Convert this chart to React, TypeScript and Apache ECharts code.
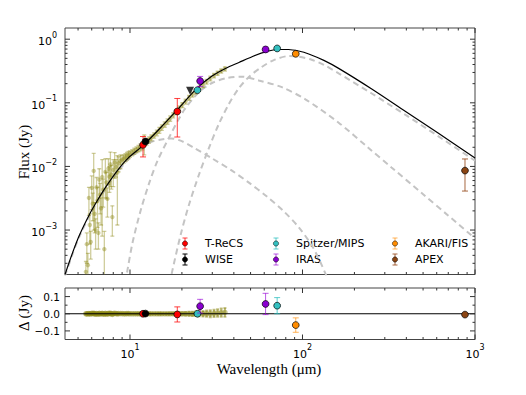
import React, { useEffect, useRef } from "react";
import * as echarts from "echarts";

// ---------- axis ranges ----------
const X_MIN = 4.2;
const X_MAX = 1000;
const Y_MIN = 2e-4;
const Y_MAX = 1.5;
const R_MIN = -0.15;
const R_MAX = 0.15;

const xMajorTicks = [10, 100, 1000];
const xMinorTicks = [5, 6, 7, 8, 9, 20, 30, 40, 50, 60, 70, 80, 90, 200, 300, 400, 500, 600, 700, 800, 900];
const yMajorTicks = [1e-3, 1e-2, 1e-1, 1];
const yMinorTicks = [
  3e-4, 4e-4, 5e-4, 6e-4, 7e-4, 8e-4, 9e-4,
  2e-3, 3e-3, 4e-3, 5e-3, 6e-3, 7e-3, 8e-3, 9e-3,
  0.02, 0.03, 0.04, 0.05, 0.06, 0.07, 0.08, 0.09,
  0.2, 0.3, 0.4, 0.5, 0.6, 0.7, 0.8, 0.9,
];
const rMajorTicks = [-0.1, 0, 0.1];
const rMinorTicks = [-0.05, 0.05];

// ---------- spectrum (olive) ----------
const specWave = [
  5.55, 5.62, 5.7, 5.78, 5.85, 5.92, 6.0, 6.08, 6.16, 6.24, 6.32, 6.4, 6.48, 6.56, 6.64, 6.72, 6.8, 6.9, 7.0, 7.1,
  7.2, 7.3, 7.4, 7.5, 7.6, 7.7, 7.8, 7.9, 8.0, 8.15, 8.3, 8.45, 8.6, 8.8, 9.0, 9.2, 9.4, 9.6, 9.8, 10.0,
  10.3, 10.6, 10.9, 11.2, 11.5, 11.8, 12.1, 12.5, 12.9, 13.3, 13.8, 14.3, 14.8, 15.3, 15.9, 16.5, 17.1, 17.8, 18.5, 19.3,
  20.1, 21.0, 22.0, 23.0, 24.0, 25.2, 26.5, 27.8, 29.2, 30.7, 32.2, 33.8, 35.5,
];
const specFlux = [
  0.00022, 0.0006, 0.00028, 0.0032, 0.0012, 0.00065, 0.0046, 0.0026, 0.0085, 0.0018, 0.001, 0.0047, 0.0029, 0.0009, 0.0062, 0.0036, 0.0022, 0.0068, 0.0043, 0.0005,
  0.0082, 0.0056, 0.0031, 0.0092, 0.0069, 0.0108, 0.0074, 0.0016, 0.0088, 0.0115, 0.0098, 0.008, 0.0112, 0.0122, 0.0128, 0.0133, 0.0139, 0.0146, 0.0152, 0.0157,
  0.0165, 0.0174, 0.0183, 0.0192, 0.0201, 0.0213, 0.0232, 0.0246, 0.0262, 0.0282, 0.0308, 0.0338, 0.0372, 0.041, 0.0458, 0.051, 0.0568, 0.064, 0.0722, 0.082,
  0.0925, 0.105, 0.12, 0.135, 0.15, 0.168, 0.189, 0.215, 0.242, 0.268, 0.292, 0.317, 0.342,
];
const specErr = [
  0.0001, 0.0003, 0.00015, 0.0015, 0.0006, 0.0003, 0.0025, 0.0012, 0.0075, 0.0009, 0.0005, 0.002, 0.0018, 0.0004, 0.003, 0.0018, 0.001, 0.006, 0.002, 0.00045,
  0.005, 0.0025, 0.0015, 0.004, 0.003, 0.006, 0.003, 0.0008, 0.004, 0.005, 0.003, 0.0068, 0.003, 0.003, 0.002, 0.002, 0.002, 0.002, 0.002, 0.0018,
  0.0018, 0.0019, 0.002, 0.0022, 0.0025, 0.003, 0.008, 0.003, 0.003, 0.003, 0.003, 0.0035, 0.004, 0.004, 0.0045, 0.005, 0.0055, 0.006, 0.0065, 0.0075,
  0.0085, 0.0095, 0.011, 0.012, 0.013, 0.015, 0.016, 0.018, 0.02, 0.021, 0.022, 0.024, 0.026,
];
const specResid = [
  0.0, -0.001, 0.0, 0.001, -0.001, 0.0, 0.002, 0.0, 0.003, -0.001, -0.002, 0.001, 0.0, -0.002, 0.002, 0.0, -0.001, 0.002, 0.0, -0.003,
  0.002, 0.0, -0.002, 0.002, 0.001, 0.003, 0.0, -0.004, 0.001, 0.002, 0.001, -0.001, 0.001, 0.001, 0.001, 0.0, 0.0, 0.001, 0.001, 0.0,
  0.0, 0.0, 0.0, 0.0, 0.0, 0.0, 0.001, 0.0, 0.0, 0.0, 0.0, 0.0, 0.0, 0.0, 0.0, 0.0, 0.0, 0.0, 0.0, 0.0,
  0.0, 0.0, 0.0, -0.001, 0.0, 0.001, 0.0, 0.001, 0.0, 0.002, 0.004, 0.006, 0.008,
];

// ---------- models ----------
const totalWave = [4.2, 4.66, 5.09, 5.82, 6.37, 7.26, 8.45, 9.75, 12.0, 14.8, 18.8, 24.5, 29.9, 36, 42.8, 51, 61.5, 73, 83, 95, 108.7, 133, 162, 252, 394, 614, 1000];
const totalFlux = [2.0e-4, 4.5e-4, 8.3e-4, 1.76e-3, 2.71e-3, 4.8e-3, 8.6e-3, 0.0135, 0.0218, 0.0388, 0.0777, 0.17, 0.264, 0.35, 0.43, 0.53, 0.638, 0.689, 0.689, 0.652, 0.586, 0.464, 0.348, 0.165, 0.0738, 0.0332, 0.0136];

const hotWave = [4.2, 4.66, 5.09, 5.82, 6.37, 7.26, 8.45, 9.75, 11.0, 12.0, 13.3, 15.2, 17.3, 19.8, 23.5, 29.9, 39.0, 48.9, 62.2, 78, 95.2, 114.8, 135.5, 150];
const hotFlux = [1.9e-4, 4.3e-4, 7.9e-4, 1.68e-3, 2.58e-3, 4.55e-3, 8.1e-3, 0.0128, 0.0168, 0.0203, 0.0243, 0.0265, 0.0276, 0.0252, 0.0196, 0.0134, 0.00857, 0.00556, 0.00336, 0.00196, 0.0011, 5.37e-4, 2.1e-4, 1.0e-4];

const warmWave = [9.4, 9.69, 10.35, 11.57, 12.93, 14.43, 16.9, 20.6, 25.2, 29.9, 36.5, 44.6, 55.8, 75.9, 104.4, 162, 241.5, 328, 489, 701, 1000];
const warmFlux = [1.5e-4, 2.43e-4, 6.36e-4, 2.1e-3, 5.5e-3, 0.0122, 0.029, 0.077, 0.148, 0.205, 0.245, 0.258, 0.225, 0.176, 0.1125, 0.0487, 0.0195, 0.00964, 0.00385, 0.00168, 7.4e-4];

const coldWave = [17.0, 17.6, 19.7, 22.0, 25.1, 28.7, 32.8, 37.5, 42.8, 48.9, 57.4, 68.2, 83.4, 95.2, 113, 133, 162, 252, 394, 614, 1000];
const coldFlux = [1.43e-4, 2.3e-4, 8.6e-4, 2.52e-3, 7.4e-3, 0.0196, 0.047, 0.0965, 0.17, 0.255, 0.358, 0.47, 0.543, 0.53, 0.475, 0.395, 0.29, 0.14, 0.065, 0.0297, 0.0123];

// ---------- photometry ----------
const trecsWave = [11.9, 18.8];
const trecsFlux = [0.0218, 0.073];
const trecsErr = [0.0077, 0.044];
const trecsResid = [0.0, -0.004];

const wiseWave = [12.3];
const wiseFlux = [0.0246];
const wiseErr = [0.0015];
const wiseResid = [0.001];
const wiseLimitWave = [22.3];
const wiseLimitFlux = [0.155];

const mipsWave = [24.6, 71.3];
const mipsFlux = [0.158, 0.716];
const mipsErr = [0.006, 0.047];
const mipsResid = [0.0, 0.047];

const irasWave = [25.5, 61.1];
const irasFlux = [0.22, 0.69];
const irasErr = [0.04, 0.062];
const irasResid = [0.044, 0.057];

const akariWave = [91.4];
const akariFlux = [0.589];
const akariErr = [0.042];
const akariResid = [-0.066];

const apexWave = [875];
const apexFlux = [0.0086];
const apexErr = [0.0045];
const apexResid = [-0.005];

const legendNames = ["T-ReCS", "Spitzer/MIPS", "AKARI/FIS", "WISE", "IRAS", "APEX"];

// ---------- styles ----------
const SANS = "'DejaVu Sans', sans-serif";
const SERIF = "'Liberation Serif', 'DejaVu Serif', serif";
const TICK_COLOR = "#333";
const OLIVE = "rgba(140,135,20,0.42)";
const OLIVE_RES = "rgba(140,135,20,0.5)";

const INSTR = {
  trecs: { face: "#ff0000", err: "rgba(255,0,0,0.75)" },
  wise: { face: "#000000", err: "#000000" },
  mips: { face: "#33c0c0", err: "rgba(40,190,190,0.75)" },
  iras: { face: "#8a00d0", err: "rgba(150,0,215,0.65)" },
  akari: { face: "#ff8c00", err: "rgba(255,140,0,0.65)" },
  apex: { face: "#8b4513", err: "rgba(150,75,30,0.85)" },
};
const legendColors = [INSTR.trecs, INSTR.mips, INSTR.akari, INSTR.wise, INSTR.iras, INSTR.apex];

function zip3(a: number[], b: number[], c: number[]) {
  return a.map((v, i) => [v, b[i], c[i]]);
}
function zip2(a: number[], b: number[]) {
  return a.map((v, i) => [v, b[i]]);
}

function errSeries(
  data: number[][],
  xIdx: number,
  yIdx: number,
  o: { stroke: string; fill: string; edge?: string; r: number; cap: number; floor: number; z?: number; lw?: number }
) {
  return {
    type: "custom",
    xAxisIndex: xIdx,
    yAxisIndex: yIdx,
    clip: true,
    silent: true,
    z: o.z ?? 3,
    data,
    encode: { x: 0, y: 1 },
    renderItem: (params: any, api: any) => {
      const x = api.value(0);
      const y = api.value(1);
      const e = api.value(2);
      const p = api.coord([x, y]);
      const children: any[] = [];
      if (e > 0) {
        let lo = y - e;
        let loCap = true;
        if (lo <= o.floor) {
          lo = o.floor;
          loCap = false;
        }
        const a = api.coord([x, lo]);
        const b = api.coord([x, y + e]);
        const ls = { stroke: o.stroke, lineWidth: o.lw ?? 1 };
        children.push({ type: "line", shape: { x1: p[0], y1: a[1], x2: p[0], y2: b[1] }, style: ls });
        children.push({ type: "line", shape: { x1: p[0] - o.cap, y1: b[1], x2: p[0] + o.cap, y2: b[1] }, style: ls });
        if (loCap) children.push({ type: "line", shape: { x1: p[0] - o.cap, y1: a[1], x2: p[0] + o.cap, y2: a[1] }, style: ls });
      }
      children.push({
        type: "circle",
        shape: { cx: p[0], cy: p[1], r: o.r },
        style: { fill: o.fill, stroke: o.edge || "none", lineWidth: o.edge ? 0.7 : 0 },
      });
      return { type: "group", children };
    },
  };
}

function tickSeries(data: number[][], xIdx: number, yIdx: number, dir: "x" | "y") {
  return {
    type: "custom",
    xAxisIndex: xIdx,
    yAxisIndex: yIdx,
    silent: true,
    z: 10,
    data,
    encode: { x: 0, y: 1 },
    renderItem: (params: any, api: any) => {
      const cs = params.coordSys;
      const len = api.value(2);
      const p = api.coord([api.value(0), api.value(1)]);
      const st = { stroke: TICK_COLOR, lineWidth: 1 };
      if (dir === "x") {
        const bot = cs.y + cs.height;
        return {
          type: "group",
          children: [
            { type: "line", shape: { x1: p[0], y1: bot, x2: p[0], y2: bot - len }, style: st },
            { type: "line", shape: { x1: p[0], y1: cs.y, x2: p[0], y2: cs.y + len }, style: st },
          ],
        };
      }
      const right = cs.x + cs.width;
      return {
        type: "group",
        children: [
          { type: "line", shape: { x1: cs.x, y1: p[1], x2: cs.x + len, y2: p[1] }, style: st },
          { type: "line", shape: { x1: right, y1: p[1], x2: right - len, y2: p[1] }, style: st },
        ],
      };
    },
  };
}

function powFmt(v: number) {
  const e = Math.log10(v);
  const r = Math.round(e);
  if (Math.abs(e - r) > 1e-6) return "";
  return `{b|10}{s|${r < 0 ? "\u2212" + -r : r}}`;
}
const powRich = {
  b: { fontSize: 11, fontFamily: SANS, color: "#000", lineHeight: 16, verticalAlign: "bottom" },
  s: { fontSize: 8, fontFamily: SANS, color: "#000", lineHeight: 8, verticalAlign: "top" },
};

function lineSeries(w: number[], f: number[], color: string, width: number, dashed: boolean, z: number) {
  return {
    type: "line",
    xAxisIndex: 0,
    yAxisIndex: 0,
    data: zip2(w, f),
    showSymbol: false,
    symbol: "none",
    smooth: 0.3,
    clip: true,
    silent: true,
    z,
    lineStyle: { color, width, type: dashed ? [6, 4] : "solid" },
  };
}

function buildOption() {
  const mainFloor = Y_MIN;
  const resFloor = R_MIN - 1;
  const photo = (w: number[], f: number[], e: number[], c: any, yIdx: number, floor: number) =>
    errSeries(zip3(w, f, e), yIdx, yIdx, { stroke: c.err, fill: c.face, edge: "#000", r: 3.4, cap: 3, floor, z: 5 });

  const legendGraphics: any[] = [];
  const colX = [185, 276, 395];
  const rowY = [243.5, 259.5];
  legendNames.forEach((name, i) => {
    const cx = colX[i % 3];
    const cy = rowY[Math.floor(i / 3)];
    const c = legendColors[i];
    const ls = { stroke: c.err, lineWidth: 1 };
    legendGraphics.push({
      type: "group",
      children: [
        { type: "line", shape: { x1: cx, y1: cy - 5.5, x2: cx, y2: cy + 5.5 }, style: ls },
        { type: "line", shape: { x1: cx - 2.5, y1: cy - 5.5, x2: cx + 2.5, y2: cy - 5.5 }, style: ls },
        { type: "line", shape: { x1: cx - 2.5, y1: cy + 5.5, x2: cx + 2.5, y2: cy + 5.5 }, style: ls },
        { type: "circle", shape: { cx, cy, r: 2.6 }, style: { fill: c.face, stroke: "#000", lineWidth: 0.5 } },
        {
          type: "text",
          x: cx + 20,
          y: cy,
          style: { text: name, fontSize: 11, fontFamily: SANS, fill: "#000", align: "left", verticalAlign: "middle" },
        },
      ],
    });
  });

  return {
    animation: false,
    backgroundColor: "#ffffff",
    grid: [
      { left: 65, top: 28, width: 410, height: 246.5, show: true, borderColor: "#444", borderWidth: 1, backgroundColor: "transparent", outerBoundsMode: "none" },
      { left: 65, top: 288, width: 410, height: 51.5, show: true, borderColor: "#444", borderWidth: 1, backgroundColor: "transparent", outerBoundsMode: "none" },
    ],
    xAxis: [
      { type: "log", gridIndex: 0, min: X_MIN, max: X_MAX, show: false, splitLine: { show: false } },
      {
        type: "log",
        gridIndex: 1,
        min: X_MIN,
        max: X_MAX,
        axisLine: { show: false },
        axisTick: { show: false },
        splitLine: { show: false },
        axisLabel: { formatter: powFmt, rich: powRich, margin: 4, hideOverlap: false, showMinLabel: false },
      },
    ],
    yAxis: [
      {
        type: "log",
        gridIndex: 0,
        min: Y_MIN,
        max: Y_MAX,
        axisLine: { show: false },
        axisTick: { show: false },
        splitLine: { show: false },
        axisLabel: { formatter: powFmt, rich: powRich, margin: 8, hideOverlap: false },
      },
      {
        type: "value",
        gridIndex: 1,
        min: R_MIN,
        max: R_MAX,
        interval: 0.05,
        axisLine: { show: false },
        axisTick: { show: false },
        splitLine: { show: false },
        axisLabel: {
          margin: 5,
          fontSize: 10.5,
          fontFamily: SANS,
          color: "#000",
          hideOverlap: false,
          formatter: (v: number) => {
            if (Math.abs(v - 0.1) < 1e-9) return "0.1";
            if (Math.abs(v) < 1e-9) return "0.0";
            if (Math.abs(v + 0.1) < 1e-9) return "\u22120.1";
            return "";
          },
        },
      },
    ],
    graphic: [
      {
        type: "text",
        x: 24,
        y: 152,
        rotation: Math.PI / 2,
        style: { text: "Flux (Jy)", fontSize: 15, fontFamily: SERIF, fill: "#000", align: "center", verticalAlign: "middle" },
      },
      {
        type: "text",
        x: 24,
        y: 313,
        rotation: Math.PI / 2,
        style: { text: "\u0394 (Jy)", fontSize: 15, fontFamily: SERIF, fill: "#000", align: "center", verticalAlign: "middle" },
      },
      {
        type: "text",
        x: 269,
        y: 369,
        style: { text: "Wavelength (\u03bcm)", fontSize: 15, fontFamily: SERIF, fill: "#000", align: "center", verticalAlign: "middle" },
      },
      ...legendGraphics,
    ],
    series: [
      // ticks
      tickSeries([...xMajorTicks.map((v) => [v, 1, 5]), ...xMinorTicks.map((v) => [v, 1, 2.5])], 0, 0, "x"),
      tickSeries([...yMajorTicks.map((v) => [10, v, 5]), ...yMinorTicks.map((v) => [10, v, 2.5])], 0, 0, "y"),
      tickSeries([...xMajorTicks.map((v) => [v, 0, 5]), ...xMinorTicks.map((v) => [v, 0, 2.5])], 1, 1, "x"),
      tickSeries([...rMajorTicks.map((v) => [10, v, 5]), ...rMinorTicks.map((v) => [10, v, 2.5])], 1, 1, "y"),
      // model components
      lineSeries(hotWave, hotFlux, "#c4c4c4", 2, true, 2),
      lineSeries(warmWave, warmFlux, "#c4c4c4", 2, true, 2),
      lineSeries(coldWave, coldFlux, "#c4c4c4", 2, true, 2),
      // spectrum
      errSeries(zip3(specWave, specFlux, specErr), 0, 0, { stroke: OLIVE, fill: OLIVE, r: 2.2, cap: 2, floor: mainFloor, z: 3, lw: 1.3 }),
      // total model
      lineSeries(totalWave, totalFlux, "#000000", 1.2, false, 4),
      // photometry
      photo(trecsWave, trecsFlux, trecsErr, INSTR.trecs, 0, mainFloor),
      photo(wiseWave, wiseFlux, wiseErr, INSTR.wise, 0, mainFloor),
      photo(mipsWave, mipsFlux, mipsErr, INSTR.mips, 0, mainFloor),
      photo(irasWave, irasFlux, irasErr, INSTR.iras, 0, mainFloor),
      photo(akariWave, akariFlux, akariErr, INSTR.akari, 0, mainFloor),
      photo(apexWave, apexFlux, apexErr, INSTR.apex, 0, mainFloor),
      {
        type: "scatter",
        xAxisIndex: 0,
        yAxisIndex: 0,
        data: zip2(wiseLimitWave, wiseLimitFlux),
        symbol: "triangle",
        symbolRotate: 180,
        symbolSize: 8,
        itemStyle: { color: "#000" },
        silent: true,
        z: 5,
      },
      // residual panel
      {
        type: "line",
        xAxisIndex: 1,
        yAxisIndex: 1,
        data: [
          [X_MIN, 0],
          [X_MAX, 0],
        ],
        showSymbol: false,
        symbol: "none",
        silent: true,
        z: 4,
        lineStyle: { color: "#000", width: 1 },
      },
      errSeries(zip3(specWave, specResid, specErr), 1, 1, { stroke: OLIVE_RES, fill: OLIVE_RES, r: 2.8, cap: 1.5, floor: resFloor, z: 3, lw: 2 }),
      photo(trecsWave, trecsResid, trecsErr, INSTR.trecs, 1, resFloor),
      photo(wiseWave, wiseResid, wiseErr, INSTR.wise, 1, resFloor),
      photo(mipsWave, mipsResid, mipsErr, INSTR.mips, 1, resFloor),
      photo(irasWave, irasResid, irasErr, INSTR.iras, 1, resFloor),
      photo(akariWave, akariResid, akariErr, INSTR.akari, 1, resFloor),
      photo(apexWave, apexResid, apexErr, INSTR.apex, 1, resFloor),
    ],
  };
}

export default function App() {
  const ref = useRef<HTMLDivElement>(null);
  useEffect(() => {
    if (!ref.current) return;
    const chart = echarts.init(ref.current, null, { renderer: "svg" });
    chart.setOption(buildOption() as any);
    return () => chart.dispose();
  }, []);
  return <div ref={ref} style={{ position: "fixed", left: 0, top: 0, width: 526, height: 395, background: "#fff" }} />;
}
